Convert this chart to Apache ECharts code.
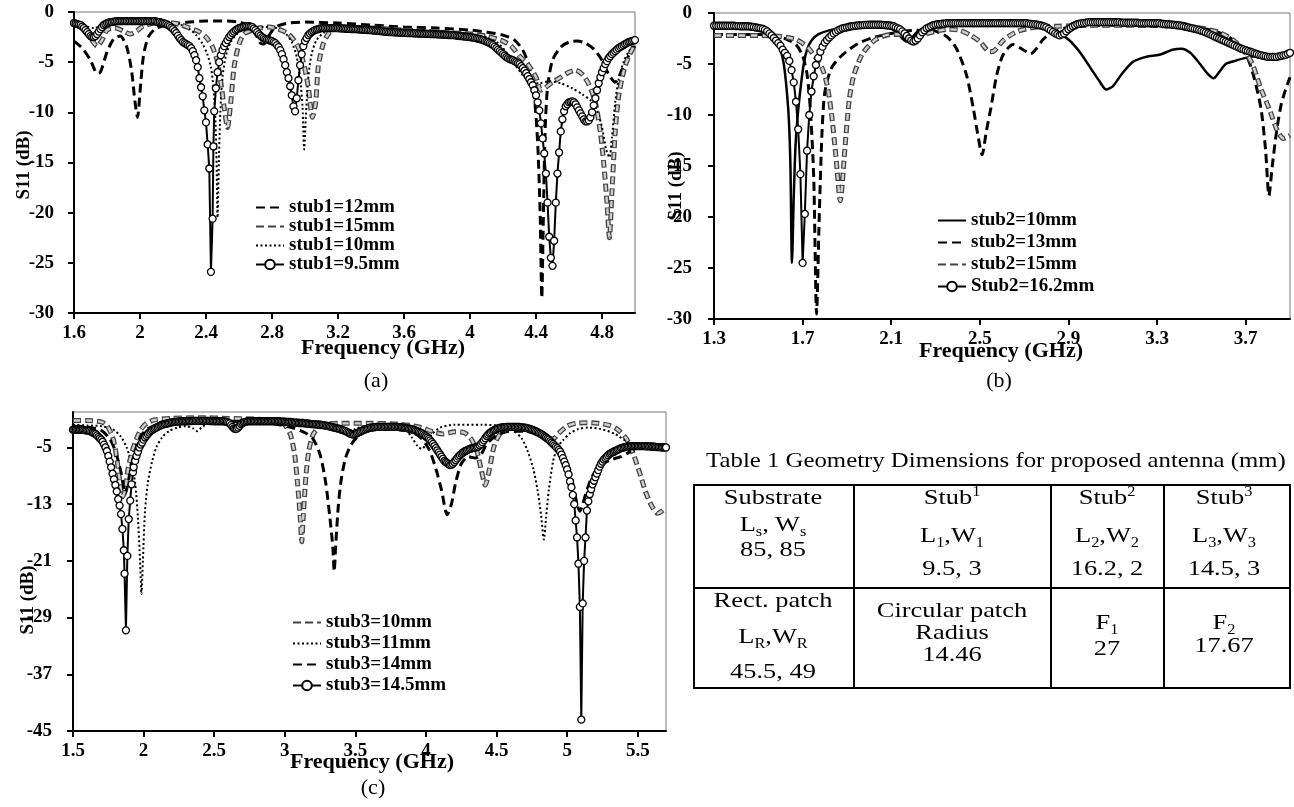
<!DOCTYPE html>
<html><head><meta charset="utf-8">
<script src="https://cdn.jsdelivr.net/npm/echarts@6/dist/echarts.min.js"></script>
<style>
body{margin:0;background:#fff;}
#wrap{position:relative;width:1294px;height:807px;overflow:hidden;background:#fff;}
#chart{position:absolute;left:0;top:0;width:1294px;height:807px;}
.t{position:absolute;font-family:'Liberation Serif','Times New Roman',serif;color:#000;white-space:nowrap;font-size:22px;line-height:1;transform:translate(-50%,-50%) scaleX(1.2);}
.ttl{font-size:21px;transform:translate(-50%,-50%) scaleX(1.18);}
.ln{position:absolute;background:#000;}
sub,sup{font-size:0.62em;line-height:0;}
</style></head>
<body><div id="wrap"><div id="chart"></div></div>
<script>
// ---------------- DATA ----------------
// Panel (a): S11 (dB) vs frequency (GHz), stub1 variations
const a_s12 = [[1.6,-2.9],[1.65,-3.6],[1.7,-4.8],[1.74,-6.1],[1.76,-6.0],[1.8,-4.0],[1.84,-2.7],[1.88,-2.4],[1.92,-3.5],[1.95,-6],[1.97,-9],[1.985,-10.5],[2.0,-8],[2.02,-4.5],[2.05,-2.5],[2.1,-1.6],[2.2,-1.2],[2.3,-1.0],[2.4,-0.9],[2.5,-0.9],[2.6,-1.0],[2.66,-1.4],[2.7,-2.2],[2.73,-3.1],[2.75,-3.2],[2.78,-2.4],[2.82,-1.5],[2.9,-1.1],[3.0,-1.0],[3.2,-1.1],[3.4,-1.3],[3.6,-1.5],[3.8,-1.6],[4.0,-1.8],[4.1,-2.0],[4.2,-2.3],[4.27,-2.8],[4.32,-3.8],[4.36,-5.5],[4.39,-8.5],[4.41,-13],[4.425,-20],[4.435,-28.5],[4.445,-20],[4.455,-12],[4.47,-7.5],[4.5,-4.8],[4.55,-3.5],[4.6,-3.0],[4.65,-2.9],[4.7,-3.1],[4.75,-3.7],[4.8,-4.8],[4.84,-6.2],[4.88,-7.0],[4.92,-5.8],[4.96,-4.4],[5.0,-3.4]];
const a_s15 = [[1.6,-1.2],[1.65,-1.6],[1.7,-2.6],[1.74,-3.4],[1.77,-2.8],[1.8,-1.8],[1.85,-1.6],[1.9,-1.9],[1.94,-2.2],[1.98,-1.9],[2.02,-1.4],[2.1,-1.1],[2.2,-1.1],[2.25,-1.3],[2.3,-1.6],[2.35,-1.9],[2.4,-2.5],[2.44,-3.5],[2.47,-5],[2.49,-7],[2.51,-9.5],[2.53,-11.5],[2.55,-9],[2.57,-5.5],[2.6,-3.2],[2.63,-2.2],[2.68,-1.8],[2.72,-1.6],[2.78,-1.5],[2.84,-1.7],[2.9,-2.2],[2.95,-3.2],[2.99,-5],[3.02,-7.5],[3.045,-10.5],[3.065,-9],[3.08,-5.5],[3.11,-3.2],[3.15,-2.0],[3.2,-1.6],[3.4,-1.6],[3.6,-1.8],[3.8,-2.0],[4.0,-2.2],[4.1,-2.4],[4.2,-2.9],[4.25,-3.4],[4.3,-4.4],[4.35,-5.2],[4.4,-6.5],[4.43,-7.8],[4.46,-7.5],[4.5,-7.0],[4.55,-6.5],[4.6,-6.0],[4.64,-5.8],[4.68,-6.2],[4.72,-7.2],[4.76,-9],[4.79,-12],[4.81,-15],[4.83,-19],[4.845,-22.5],[4.86,-18],[4.88,-12],[4.9,-8.5],[4.93,-6],[4.96,-4.5],[5.0,-3.2]];
const a_s10 = [[1.6,-1.2],[1.66,-1.4],[1.72,-1.6],[1.78,-1.3],[1.85,-1.1],[2.0,-1.0],[2.15,-1.0],[2.25,-1.3],[2.3,-1.7],[2.34,-2.3],[2.38,-3.2],[2.41,-4.3],[2.43,-5.5],[2.445,-7.5],[2.455,-10],[2.463,-14],[2.47,-20.5],[2.478,-15],[2.487,-10],[2.5,-6.5],[2.52,-4.4],[2.55,-3.0],[2.6,-2.0],[2.66,-1.6],[2.75,-1.5],[2.83,-1.6],[2.88,-2.1],[2.92,-3.0],[2.95,-4.5],[2.97,-6.5],[2.985,-9.5],[2.995,-13.7],[3.005,-10.5],[3.02,-6.5],[3.04,-4.2],[3.07,-2.8],[3.12,-2.0],[3.2,-1.7],[3.4,-1.7],[3.6,-1.8],[3.8,-2.0],[4.0,-2.2],[4.1,-2.5],[4.17,-3.1],[4.22,-4.0],[4.27,-5.2],[4.32,-6.3],[4.37,-7.0],[4.42,-7.1],[4.48,-6.9],[4.55,-7.1],[4.62,-7.6],[4.68,-8.2],[4.73,-8.8],[4.77,-9.8],[4.8,-11.5],[4.825,-13.7],[4.845,-14.5],[4.86,-12.5],[4.88,-9],[4.9,-6.8],[4.93,-5.0],[4.96,-4.0],[5.0,-3.2]];
const a_s95 = [[1.60,-1.1],[1.61,-1.15],[1.62,-1.2],[1.63,-1.25],[1.64,-1.3],[1.65,-1.45],[1.66,-1.6],[1.67,-1.8],[1.68,-2.0],[1.69,-2.2],[1.70,-2.4],[1.71,-2.5],[1.72,-2.5],[1.73,-2.4],[1.74,-2.2],[1.75,-1.95],[1.76,-1.7],[1.77,-1.5],[1.78,-1.3],[1.79,-1.2],[1.80,-1.1],[1.81,-1.05],[1.82,-1.0],[1.83,-1.0],[1.84,-0.95],[1.85,-0.95],[1.86,-0.9],[1.87,-0.9],[1.88,-0.9],[1.89,-0.9],[1.90,-0.9],[1.91,-0.9],[1.92,-0.9],[1.93,-0.9],[1.94,-0.9],[1.95,-0.9],[1.96,-0.9],[1.97,-0.9],[1.98,-0.9],[1.99,-0.9],[2.00,-0.9],[2.01,-0.9],[2.02,-0.9],[2.03,-0.9],[2.04,-0.9],[2.05,-0.9],[2.06,-0.9],[2.07,-0.9],[2.08,-0.9],[2.09,-0.9],[2.10,-0.95],[2.11,-1.0],[2.12,-1.0],[2.13,-1.05],[2.14,-1.1],[2.15,-1.15],[2.16,-1.2],[2.17,-1.3],[2.18,-1.4],[2.19,-1.55],[2.20,-1.7],[2.21,-1.9],[2.22,-2.1],[2.23,-2.35],[2.24,-2.6],[2.25,-2.8],[2.26,-3.0],[2.27,-3.1],[2.28,-3.2],[2.29,-3.3],[2.30,-3.4],[2.31,-3.6],[2.32,-3.9],[2.33,-4.3],[2.34,-4.8],[2.35,-5.5],[2.36,-6.6],[2.37,-7.5],[2.38,-8.4],[2.39,-9.8],[2.40,-11.0],[2.41,-13.2],[2.42,-15.6],[2.43,-25.9],[2.44,-20.6],[2.445,-13.4],[2.45,-9.9],[2.46,-7.6],[2.47,-6.0],[2.48,-5.0],[2.49,-4.3],[2.50,-3.8],[2.51,-3.4],[2.52,-3.1],[2.53,-2.8],[2.54,-2.5],[2.55,-2.3],[2.56,-2.1],[2.57,-1.95],[2.58,-1.8],[2.59,-1.7],[2.60,-1.6],[2.61,-1.55],[2.62,-1.5],[2.63,-1.45],[2.64,-1.4],[2.65,-1.4],[2.66,-1.4],[2.67,-1.45],[2.68,-1.5],[2.69,-1.65],[2.70,-1.8],[2.71,-2.0],[2.72,-2.2],[2.73,-2.35],[2.74,-2.5],[2.75,-2.6],[2.76,-2.7],[2.77,-2.75],[2.78,-2.8],[2.79,-2.85],[2.80,-2.9],[2.81,-3.0],[2.82,-3.1],[2.83,-3.3],[2.84,-3.5],[2.85,-3.8],[2.86,-4.2],[2.87,-4.7],[2.88,-5.3],[2.89,-6.0],[2.90,-6.6],[2.91,-7.4],[2.92,-8.3],[2.93,-9.4],[2.94,-9.9],[2.95,-8.6],[2.96,-6.8],[2.97,-5.3],[2.98,-4.2],[2.99,-3.4],[3.00,-2.9],[3.01,-2.6],[3.02,-2.3],[3.03,-2.15],[3.04,-2.0],[3.05,-1.9],[3.06,-1.8],[3.07,-1.75],[3.08,-1.7],[3.09,-1.65],[3.10,-1.6],[3.11,-1.6],[3.12,-1.6],[3.13,-1.6],[3.14,-1.6],[3.15,-1.6],[3.16,-1.6],[3.17,-1.6],[3.18,-1.6],[3.19,-1.6],[3.20,-1.6],[3.21,-1.62],[3.22,-1.63],[3.23,-1.64],[3.24,-1.65],[3.25,-1.67],[3.26,-1.68],[3.27,-1.69],[3.28,-1.7],[3.29,-1.7],[3.30,-1.7],[3.31,-1.71],[3.32,-1.72],[3.33,-1.73],[3.34,-1.75],[3.35,-1.77],[3.36,-1.78],[3.37,-1.79],[3.38,-1.8],[3.39,-1.8],[3.40,-1.81],[3.41,-1.83],[3.42,-1.85],[3.43,-1.87],[3.44,-1.88],[3.45,-1.9],[3.46,-1.91],[3.47,-1.93],[3.48,-1.95],[3.49,-1.97],[3.50,-1.98],[3.51,-2.0],[3.52,-2.0],[3.53,-2.01],[3.54,-2.02],[3.55,-2.03],[3.56,-2.04],[3.57,-2.05],[3.58,-2.06],[3.59,-2.07],[3.60,-2.08],[3.61,-2.09],[3.62,-2.1],[3.63,-2.1],[3.64,-2.1],[3.65,-2.11],[3.66,-2.12],[3.67,-2.13],[3.68,-2.14],[3.69,-2.15],[3.70,-2.15],[3.71,-2.15],[3.72,-2.16],[3.73,-2.17],[3.74,-2.18],[3.75,-2.19],[3.76,-2.2],[3.77,-2.2],[3.78,-2.2],[3.79,-2.21],[3.80,-2.22],[3.81,-2.23],[3.82,-2.24],[3.83,-2.25],[3.84,-2.26],[3.85,-2.27],[3.86,-2.28],[3.87,-2.29],[3.88,-2.3],[3.89,-2.3],[3.90,-2.31],[3.91,-2.33],[3.92,-2.35],[3.93,-2.37],[3.94,-2.39],[3.95,-2.4],[3.96,-2.42],[3.97,-2.44],[3.98,-2.46],[3.99,-2.48],[4.00,-2.5],[4.01,-2.52],[4.02,-2.55],[4.03,-2.58],[4.04,-2.62],[4.05,-2.66],[4.06,-2.7],[4.07,-2.75],[4.08,-2.8],[4.09,-2.88],[4.10,-2.95],[4.11,-3.02],[4.12,-3.1],[4.13,-3.2],[4.14,-3.3],[4.15,-3.45],[4.16,-3.6],[4.17,-3.75],[4.18,-3.9],[4.19,-4.05],[4.20,-4.2],[4.21,-4.35],[4.22,-4.5],[4.23,-4.6],[4.24,-4.7],[4.25,-4.75],[4.26,-4.8],[4.27,-4.9],[4.28,-5.0],[4.29,-5.1],[4.30,-5.2],[4.31,-5.4],[4.32,-5.6],[4.33,-5.85],[4.34,-6.1],[4.35,-6.4],[4.36,-6.7],[4.37,-7.0],[4.38,-7.3],[4.39,-7.8],[4.40,-8.3],[4.41,-9.0],[4.42,-9.8],[4.43,-11.1],[4.44,-12.6],[4.45,-14.1],[4.46,-16.1],[4.47,-19.0],[4.48,-22.4],[4.49,-24.5],[4.50,-25.3],[4.51,-22.8],[4.52,-19.0],[4.53,-16.1],[4.54,-14.0],[4.55,-11.9],[4.56,-10.7],[4.57,-9.9],[4.58,-9.4],[4.59,-9.2],[4.60,-9.0],[4.61,-8.95],[4.62,-8.9],[4.63,-9.0],[4.64,-9.2],[4.65,-9.5],[4.66,-9.8],[4.67,-10.1],[4.68,-10.4],[4.69,-10.7],[4.70,-10.9],[4.71,-10.9],[4.72,-10.8],[4.73,-10.5],[4.74,-10.0],[4.75,-9.3],[4.76,-8.6],[4.77,-7.8],[4.78,-7.1],[4.79,-6.5],[4.80,-6.0],[4.81,-5.6],[4.82,-5.2],[4.83,-4.9],[4.84,-4.6],[4.85,-4.4],[4.86,-4.2],[4.87,-4.05],[4.88,-3.9],[4.89,-3.75],[4.90,-3.6],[4.91,-3.5],[4.92,-3.4],[4.93,-3.3],[4.94,-3.2],[4.95,-3.1],[4.96,-3.0],[4.97,-2.95],[4.98,-2.9],[4.99,-2.85],[5.00,-2.8]];

// Panel (b): stub2 variations
const b_s10 = [[1.3,-1.3],[1.4,-1.3],[1.48,-1.4],[1.53,-1.6],[1.56,-2.0],[1.58,-2.6],[1.6,-3.6],[1.615,-5.0],[1.628,-7.5],[1.638,-10.5],[1.645,-15],[1.652,-24.5],[1.66,-18],[1.668,-13],[1.678,-10],[1.69,-7.5],[1.705,-5],[1.72,-3.6],[1.74,-2.7],[1.77,-2.1],[1.82,-1.7],[1.9,-1.4],[2.0,-1.3],[2.08,-1.4],[2.12,-1.8],[2.15,-2.5],[2.17,-2.8],[2.19,-2.5],[2.22,-1.8],[2.27,-1.3],[2.35,-1.1],[2.5,-1.0],[2.65,-1.0],[2.75,-1.1],[2.81,-1.5],[2.85,-1.9],[2.9,-2.6],[2.95,-3.8],[3.0,-5.4],[3.04,-6.7],[3.07,-7.5],[3.1,-7.2],[3.14,-6.0],[3.19,-4.8],[3.25,-4.3],[3.31,-4.1],[3.37,-3.6],[3.41,-3.5],[3.45,-3.9],[3.49,-4.9],[3.53,-6.0],[3.555,-6.4],[3.58,-5.8],[3.61,-5.0],[3.65,-4.7],[3.7,-4.4],[3.76,-4.2],[3.83,-4.3],[3.9,-4.2]];
const b_s13 = [[1.3,-2.1],[1.4,-2.1],[1.5,-2.1],[1.56,-2.2],[1.62,-2.5],[1.67,-3.1],[1.7,-4.2],[1.72,-6],[1.735,-9.5],[1.75,-16],[1.763,-29.5],[1.775,-20],[1.787,-12],[1.80,-7.8],[1.83,-5.4],[1.88,-4.1],[1.95,-3.0],[2.02,-2.4],[2.1,-2.0],[2.2,-1.7],[2.28,-1.7],[2.35,-2.3],[2.395,-3.5],[2.44,-6.1],[2.47,-9.3],[2.49,-11.8],[2.51,-13.9],[2.53,-11.5],[2.55,-9.3],[2.576,-6.1],[2.605,-4.1],[2.65,-3.1],[2.695,-3.6],[2.73,-4.0],[2.755,-3.5],[2.785,-2.6],[2.82,-2.0],[2.88,-1.5],[2.95,-1.3],[3.1,-1.2],[3.3,-1.2],[3.45,-1.4],[3.55,-1.7],[3.62,-2.3],[3.67,-3.2],[3.71,-4.5],[3.74,-6.5],[3.77,-9.5],[3.79,-13.5],[3.805,-17.9],[3.82,-15],[3.84,-11.5],[3.86,-9],[3.88,-7.5],[3.9,-6.3]];
const b_s15 = [[1.3,-2.2],[1.4,-2.2],[1.5,-2.2],[1.6,-2.3],[1.67,-2.6],[1.72,-3.3],[1.76,-4.4],[1.79,-5.5],[1.81,-7],[1.83,-9.8],[1.85,-14],[1.87,-18.4],[1.89,-13.5],[1.91,-8.6],[1.93,-6.2],[1.97,-4.0],[2.03,-2.6],[2.1,-2.1],[2.15,-2.1],[2.19,-2.6],[2.21,-2.7],[2.24,-2.2],[2.3,-1.8],[2.36,-1.6],[2.41,-1.7],[2.46,-2.2],[2.5,-2.8],[2.545,-3.8],[2.565,-3.7],[2.61,-2.6],[2.67,-1.8],[2.75,-1.4],[2.85,-1.3],[3.0,-1.2],[3.2,-1.2],[3.4,-1.3],[3.5,-1.5],[3.58,-1.9],[3.64,-2.6],[3.69,-3.6],[3.73,-5],[3.77,-7.5],[3.81,-9.6],[3.84,-11.4],[3.87,-12.3],[3.9,-12.0]];
const b_s162 = [[1.30,-1.25],[1.31,-1.25],[1.32,-1.25],[1.33,-1.25],[1.34,-1.25],[1.35,-1.25],[1.36,-1.25],[1.37,-1.25],[1.38,-1.25],[1.39,-1.25],[1.40,-1.28],[1.41,-1.28],[1.42,-1.3],[1.43,-1.3],[1.44,-1.3],[1.45,-1.3],[1.46,-1.32],[1.47,-1.35],[1.48,-1.38],[1.49,-1.42],[1.50,-1.45],[1.51,-1.5],[1.52,-1.55],[1.53,-1.65],[1.54,-1.8],[1.55,-2.0],[1.56,-2.2],[1.57,-2.45],[1.58,-2.7],[1.59,-2.95],[1.60,-3.2],[1.61,-3.6],[1.62,-3.9],[1.63,-4.2],[1.64,-4.7],[1.65,-5.6],[1.66,-6.8],[1.67,-8.7],[1.68,-11.4],[1.69,-15.8],[1.70,-24.5],[1.71,-19.7],[1.72,-13.5],[1.73,-10.0],[1.74,-7.7],[1.75,-6.2],[1.76,-5.1],[1.77,-4.4],[1.78,-3.8],[1.79,-3.3],[1.80,-2.9],[1.81,-2.65],[1.82,-2.4],[1.83,-2.2],[1.84,-2.0],[1.85,-1.85],[1.86,-1.7],[1.87,-1.6],[1.88,-1.5],[1.89,-1.45],[1.90,-1.4],[1.91,-1.35],[1.92,-1.3],[1.93,-1.28],[1.94,-1.25],[1.95,-1.22],[1.96,-1.2],[1.97,-1.18],[1.98,-1.17],[1.99,-1.16],[2.00,-1.15],[2.01,-1.15],[2.02,-1.15],[2.03,-1.15],[2.04,-1.15],[2.05,-1.15],[2.06,-1.16],[2.07,-1.18],[2.08,-1.2],[2.09,-1.22],[2.10,-1.25],[2.11,-1.3],[2.12,-1.4],[2.13,-1.5],[2.14,-1.6],[2.15,-1.8],[2.16,-2.0],[2.17,-2.25],[2.18,-2.5],[2.19,-2.7],[2.20,-2.8],[2.21,-2.7],[2.22,-2.5],[2.23,-2.2],[2.24,-1.9],[2.25,-1.7],[2.26,-1.5],[2.27,-1.4],[2.28,-1.3],[2.29,-1.2],[2.30,-1.15],[2.31,-1.1],[2.32,-1.1],[2.33,-1.05],[2.34,-1.05],[2.35,-1.0],[2.36,-1.0],[2.37,-1.0],[2.38,-1.0],[2.39,-1.0],[2.40,-1.0],[2.41,-1.0],[2.42,-1.0],[2.43,-1.0],[2.44,-1.0],[2.45,-1.0],[2.46,-1.0],[2.47,-1.0],[2.48,-1.0],[2.49,-1.0],[2.50,-1.0],[2.51,-1.0],[2.52,-1.0],[2.53,-1.0],[2.54,-1.0],[2.55,-1.0],[2.56,-1.0],[2.57,-1.0],[2.58,-1.0],[2.59,-1.0],[2.60,-1.0],[2.61,-1.0],[2.62,-1.0],[2.63,-1.0],[2.64,-1.0],[2.65,-1.0],[2.66,-1.0],[2.67,-1.0],[2.68,-1.0],[2.69,-1.0],[2.70,-1.0],[2.71,-1.0],[2.72,-1.05],[2.73,-1.07],[2.74,-1.1],[2.75,-1.12],[2.76,-1.15],[2.77,-1.2],[2.78,-1.25],[2.79,-1.32],[2.80,-1.4],[2.81,-1.55],[2.82,-1.7],[2.83,-1.85],[2.84,-2.0],[2.85,-2.1],[2.86,-2.2],[2.87,-2.1],[2.88,-2.0],[2.89,-1.8],[2.90,-1.6],[2.91,-1.45],[2.92,-1.3],[2.93,-1.2],[2.94,-1.1],[2.95,-1.05],[2.96,-1.0],[2.97,-0.97],[2.98,-0.95],[2.99,-0.9],[3.00,-0.9],[3.01,-0.9],[3.02,-0.9],[3.03,-0.9],[3.04,-0.9],[3.05,-0.9],[3.06,-0.9],[3.07,-0.9],[3.08,-0.9],[3.09,-0.9],[3.10,-0.9],[3.11,-0.9],[3.12,-0.9],[3.13,-0.9],[3.14,-0.95],[3.15,-0.95],[3.16,-0.95],[3.17,-0.95],[3.18,-0.95],[3.19,-0.95],[3.20,-0.95],[3.21,-0.95],[3.22,-1.0],[3.23,-1.0],[3.24,-1.0],[3.25,-1.0],[3.26,-1.0],[3.27,-1.0],[3.28,-1.0],[3.29,-1.0],[3.30,-1.0],[3.31,-1.0],[3.32,-1.05],[3.33,-1.07],[3.34,-1.1],[3.35,-1.1],[3.36,-1.12],[3.37,-1.15],[3.38,-1.17],[3.39,-1.2],[3.40,-1.22],[3.41,-1.25],[3.42,-1.3],[3.43,-1.35],[3.44,-1.4],[3.45,-1.45],[3.46,-1.5],[3.47,-1.55],[3.48,-1.6],[3.49,-1.67],[3.50,-1.75],[3.51,-1.82],[3.52,-1.9],[3.53,-2.0],[3.54,-2.1],[3.55,-2.2],[3.56,-2.3],[3.57,-2.4],[3.58,-2.5],[3.59,-2.6],[3.60,-2.7],[3.61,-2.8],[3.62,-2.9],[3.63,-3.0],[3.64,-3.1],[3.65,-3.2],[3.66,-3.3],[3.67,-3.4],[3.68,-3.5],[3.69,-3.57],[3.70,-3.65],[3.71,-3.72],[3.72,-3.8],[3.73,-3.87],[3.74,-3.95],[3.75,-4.02],[3.76,-4.1],[3.77,-4.15],[3.78,-4.2],[3.79,-4.25],[3.80,-4.3],[3.81,-4.3],[3.82,-4.3],[3.83,-4.3],[3.84,-4.3],[3.85,-4.25],[3.86,-4.2],[3.87,-4.15],[3.88,-4.1],[3.89,-4.0],[3.90,-3.9]];

// Panel (c): stub3 variations
const c_s10 = [[1.5,-1.2],[1.6,-1.2],[1.7,-1.4],[1.74,-1.9],[1.77,-3.0],[1.79,-4.2],[1.81,-6.5],[1.83,-9.5],[1.85,-12],[1.87,-11],[1.89,-8],[1.92,-5.5],[1.95,-3.8],[1.98,-2.5],[2.02,-1.6],[2.08,-1.1],[2.2,-0.9],[2.4,-0.8],[2.6,-0.9],[2.8,-1.0],[2.95,-1.3],[3.0,-1.8],[3.04,-3.2],[3.07,-6],[3.09,-10],[3.11,-15],[3.12,-18.3],[3.13,-15],[3.15,-9],[3.17,-5.5],[3.2,-3.2],[3.24,-2.2],[3.3,-1.7],[3.4,-1.6],[3.6,-1.6],[3.8,-1.7],[3.95,-2.1],[4.05,-2.8],[4.12,-3.1],[4.2,-2.8],[4.27,-2.9],[4.32,-3.8],[4.36,-5.5],[4.39,-8],[4.42,-10.3],[4.45,-8],[4.48,-5],[4.52,-3.2],[4.58,-2.4],[4.65,-2.3],[4.72,-2.5],[4.8,-3.0],[4.86,-3.6],[4.9,-3.8],[4.94,-3.0],[5.0,-2.0],[5.06,-1.6],[5.14,-1.5],[5.22,-1.6],[5.3,-1.9],[5.36,-2.5],[5.42,-3.8],[5.47,-6],[5.52,-9],[5.56,-11.5],[5.6,-13.3],[5.64,-14.3],[5.67,-14],[5.7,-13.5]];
const c_s11 = [[1.5,-1.8],[1.6,-1.9],[1.7,-2.0],[1.78,-2.4],[1.84,-3.5],[1.88,-5],[1.91,-7],[1.94,-10],[1.96,-15],[1.975,-21],[1.985,-25.7],[1.995,-21],[2.01,-14],[2.03,-10],[2.06,-7],[2.09,-5],[2.13,-3.6],[2.18,-2.7],[2.24,-2.2],[2.3,-2.0],[2.35,-2.3],[2.38,-2.7],[2.41,-2.2],[2.46,-1.6],[2.6,-1.4],[2.8,-1.4],[3.0,-1.5],[3.2,-1.7],[3.35,-2.0],[3.42,-2.6],[3.46,-2.8],[3.5,-2.4],[3.6,-1.8],[3.75,-1.8],[3.85,-2.4],[3.9,-3.6],[3.94,-4.8],[3.97,-5.2],[4.0,-4.6],[4.04,-3.2],[4.1,-2.2],[4.2,-1.8],[4.4,-1.8],[4.55,-2.0],[4.62,-2.6],[4.68,-3.8],[4.72,-5.5],[4.76,-8],[4.79,-11],[4.815,-14.5],[4.835,-18],[4.85,-15],[4.87,-11],[4.9,-7],[4.93,-5],[4.97,-4.0],[5.02,-3.0],[5.08,-2.4],[5.15,-2.2],[5.24,-2.4],[5.34,-3.1],[5.43,-4.3],[5.5,-4.9],[5.6,-5.0],[5.7,-5.0]];
const c_s14 = [[1.5,-2.0],[1.6,-2.1],[1.7,-2.6],[1.76,-3.8],[1.8,-5.5],[1.84,-8.5],[1.87,-11.5],[1.89,-10],[1.92,-6.5],[1.96,-4],[2.02,-2.5],[2.1,-1.8],[2.3,-1.4],[2.6,-1.3],[2.9,-1.6],[3.05,-2.2],[3.15,-3.0],[3.2,-3.8],[3.25,-6],[3.29,-10],[3.32,-15],[3.34,-19],[3.35,-22.5],[3.36,-19],[3.38,-13],[3.4,-9.5],[3.43,-6.5],[3.47,-4.6],[3.52,-3.4],[3.6,-2.6],[3.7,-2.3],[3.85,-2.5],[3.95,-3.4],[4.02,-5.2],[4.07,-8],[4.11,-11],[4.15,-14.5],[4.18,-13],[4.21,-10],[4.25,-7.3],[4.3,-6.3],[4.35,-6.5],[4.39,-6.0],[4.43,-4.5],[4.5,-3.3],[4.6,-2.7],[4.7,-2.7],[4.8,-3.2],[4.9,-4.3],[4.97,-6],[5.02,-8.5],[5.05,-11],[5.07,-13],[5.09,-14],[5.11,-13],[5.14,-11],[5.18,-9],[5.24,-7.5],[5.3,-6.8],[5.38,-6.3],[5.45,-5.6],[5.55,-5.0],[5.7,-5.0]];
const c_s145 = [[1.50,-2.5],[1.51,-2.5],[1.52,-2.5],[1.53,-2.5],[1.54,-2.5],[1.55,-2.5],[1.56,-2.5],[1.57,-2.5],[1.58,-2.55],[1.59,-2.6],[1.60,-2.6],[1.61,-2.65],[1.62,-2.7],[1.63,-2.8],[1.64,-2.9],[1.65,-3.0],[1.66,-3.1],[1.67,-3.3],[1.68,-3.5],[1.69,-3.7],[1.70,-3.9],[1.71,-4.2],[1.72,-4.6],[1.73,-5.0],[1.74,-5.5],[1.75,-6.2],[1.76,-7.0],[1.77,-7.8],[1.78,-8.7],[1.79,-9.5],[1.80,-10.3],[1.81,-11.2],[1.82,-12.3],[1.83,-13.2],[1.84,-14.4],[1.85,-16.5],[1.86,-19.5],[1.865,-22.8],[1.875,-30.8],[1.885,-20.3],[1.895,-15.1],[1.905,-12.5],[1.915,-10.2],[1.925,-8.5],[1.93,-7.8],[1.94,-6.9],[1.95,-6.2],[1.96,-5.6],[1.97,-5.0],[1.98,-4.6],[1.99,-4.3],[2.00,-3.9],[2.01,-3.6],[2.02,-3.35],[2.03,-3.1],[2.04,-2.9],[2.05,-2.7],[2.06,-2.55],[2.07,-2.4],[2.08,-2.3],[2.09,-2.2],[2.10,-2.1],[2.11,-2.0],[2.12,-1.9],[2.13,-1.8],[2.14,-1.75],[2.15,-1.7],[2.16,-1.65],[2.17,-1.6],[2.18,-1.55],[2.19,-1.5],[2.20,-1.45],[2.21,-1.42],[2.22,-1.4],[2.23,-1.38],[2.24,-1.36],[2.25,-1.35],[2.26,-1.33],[2.27,-1.3],[2.28,-1.3],[2.29,-1.3],[2.30,-1.3],[2.31,-1.3],[2.32,-1.28],[2.33,-1.28],[2.34,-1.27],[2.35,-1.26],[2.36,-1.25],[2.37,-1.25],[2.38,-1.25],[2.39,-1.25],[2.40,-1.25],[2.41,-1.25],[2.42,-1.25],[2.43,-1.25],[2.44,-1.25],[2.45,-1.25],[2.46,-1.26],[2.47,-1.27],[2.48,-1.28],[2.49,-1.28],[2.50,-1.3],[2.51,-1.3],[2.52,-1.3],[2.53,-1.3],[2.54,-1.3],[2.55,-1.3],[2.56,-1.3],[2.57,-1.32],[2.58,-1.35],[2.59,-1.4],[2.60,-1.5],[2.61,-1.6],[2.62,-1.85],[2.63,-2.1],[2.64,-2.3],[2.65,-2.4],[2.66,-2.35],[2.67,-2.2],[2.68,-1.95],[2.69,-1.7],[2.70,-1.55],[2.71,-1.45],[2.72,-1.4],[2.73,-1.35],[2.74,-1.3],[2.75,-1.3],[2.76,-1.3],[2.77,-1.3],[2.78,-1.3],[2.79,-1.3],[2.80,-1.3],[2.81,-1.3],[2.82,-1.3],[2.83,-1.3],[2.84,-1.3],[2.85,-1.3],[2.86,-1.3],[2.87,-1.3],[2.88,-1.3],[2.89,-1.3],[2.90,-1.3],[2.91,-1.3],[2.92,-1.3],[2.93,-1.3],[2.94,-1.3],[2.95,-1.3],[2.96,-1.3],[2.97,-1.35],[2.98,-1.35],[2.99,-1.35],[3.00,-1.35],[3.01,-1.4],[3.02,-1.4],[3.03,-1.4],[3.04,-1.4],[3.05,-1.45],[3.06,-1.5],[3.07,-1.5],[3.08,-1.5],[3.09,-1.5],[3.10,-1.55],[3.11,-1.55],[3.12,-1.55],[3.13,-1.55],[3.14,-1.6],[3.15,-1.6],[3.16,-1.63],[3.17,-1.65],[3.18,-1.68],[3.19,-1.7],[3.20,-1.7],[3.21,-1.72],[3.22,-1.74],[3.23,-1.76],[3.24,-1.78],[3.25,-1.8],[3.26,-1.82],[3.27,-1.85],[3.28,-1.88],[3.29,-1.92],[3.30,-1.96],[3.31,-2.0],[3.32,-2.05],[3.33,-2.1],[3.34,-2.15],[3.35,-2.2],[3.36,-2.25],[3.37,-2.3],[3.38,-2.35],[3.39,-2.4],[3.40,-2.47],[3.41,-2.55],[3.42,-2.62],[3.43,-2.7],[3.44,-2.8],[3.45,-2.9],[3.46,-3.0],[3.47,-3.1],[3.48,-3.15],[3.49,-3.2],[3.50,-3.1],[3.51,-3.0],[3.52,-2.9],[3.53,-2.8],[3.54,-2.7],[3.55,-2.6],[3.56,-2.52],[3.57,-2.45],[3.58,-2.37],[3.59,-2.3],[3.60,-2.25],[3.61,-2.2],[3.62,-2.17],[3.63,-2.15],[3.64,-2.12],[3.65,-2.1],[3.66,-2.1],[3.67,-2.1],[3.68,-2.1],[3.69,-2.1],[3.70,-2.1],[3.71,-2.1],[3.72,-2.1],[3.73,-2.1],[3.74,-2.1],[3.75,-2.1],[3.76,-2.1],[3.77,-2.1],[3.78,-2.1],[3.79,-2.1],[3.80,-2.1],[3.81,-2.12],[3.82,-2.15],[3.83,-2.18],[3.84,-2.2],[3.85,-2.22],[3.86,-2.25],[3.87,-2.3],[3.88,-2.35],[3.89,-2.4],[3.90,-2.45],[3.91,-2.5],[3.92,-2.57],[3.93,-2.65],[3.94,-2.72],[3.95,-2.8],[3.96,-2.9],[3.97,-3.0],[3.98,-3.15],[3.99,-3.3],[4.00,-3.45],[4.01,-3.6],[4.02,-3.8],[4.03,-4.0],[4.04,-4.25],[4.05,-4.5],[4.06,-4.8],[4.07,-5.1],[4.08,-5.4],[4.09,-5.7],[4.10,-6.0],[4.11,-6.3],[4.12,-6.6],[4.13,-6.9],[4.14,-7.05],[4.15,-7.2],[4.16,-7.35],[4.17,-7.5],[4.18,-7.45],[4.19,-7.3],[4.20,-7.05],[4.21,-6.8],[4.22,-6.55],[4.23,-6.3],[4.24,-6.1],[4.25,-5.9],[4.26,-5.75],[4.27,-5.6],[4.28,-5.5],[4.29,-5.4],[4.30,-5.3],[4.31,-5.2],[4.32,-5.15],[4.33,-5.1],[4.34,-5.05],[4.35,-5.0],[4.36,-4.95],[4.37,-4.9],[4.38,-4.7],[4.39,-4.5],[4.40,-4.25],[4.41,-4.0],[4.42,-3.7],[4.43,-3.4],[4.44,-3.2],[4.45,-3.0],[4.46,-2.85],[4.47,-2.7],[4.48,-2.6],[4.49,-2.5],[4.50,-2.4],[4.51,-2.3],[4.52,-2.25],[4.53,-2.2],[4.54,-2.17],[4.55,-2.15],[4.56,-2.12],[4.57,-2.1],[4.58,-2.1],[4.59,-2.1],[4.60,-2.1],[4.61,-2.1],[4.62,-2.1],[4.63,-2.1],[4.64,-2.1],[4.65,-2.1],[4.66,-2.1],[4.67,-2.15],[4.68,-2.17],[4.69,-2.2],[4.70,-2.22],[4.71,-2.25],[4.72,-2.3],[4.73,-2.35],[4.74,-2.42],[4.75,-2.5],[4.76,-2.57],[4.77,-2.65],[4.78,-2.75],[4.79,-2.85],[4.80,-2.95],[4.81,-3.05],[4.82,-3.17],[4.83,-3.3],[4.84,-3.45],[4.85,-3.6],[4.86,-3.75],[4.87,-3.9],[4.88,-4.1],[4.89,-4.3],[4.90,-4.5],[4.91,-4.7],[4.92,-4.9],[4.93,-5.1],[4.94,-5.35],[4.95,-5.6],[4.96,-6.0],[4.97,-6.5],[4.98,-7.0],[4.99,-7.5],[5.00,-8.1],[5.01,-8.8],[5.02,-9.8],[5.03,-10.6],[5.04,-11.7],[5.05,-13.0],[5.06,-15.3],[5.07,-17.7],[5.08,-21.4],[5.09,-27.5],[5.10,-43.4],[5.11,-27.0],[5.12,-21.0],[5.13,-17.7],[5.14,-13.9],[5.15,-12.6],[5.16,-11.6],[5.17,-10.9],[5.18,-10.2],[5.19,-9.7],[5.20,-9.2],[5.21,-8.7],[5.22,-8.2],[5.23,-7.7],[5.24,-7.3],[5.25,-7.0],[5.26,-6.7],[5.27,-6.5],[5.28,-6.3],[5.29,-6.1],[5.30,-5.9],[5.31,-5.8],[5.32,-5.7],[5.33,-5.6],[5.34,-5.5],[5.35,-5.4],[5.36,-5.3],[5.37,-5.2],[5.38,-5.1],[5.39,-5.05],[5.40,-5.0],[5.41,-4.95],[5.42,-4.9],[5.43,-4.88],[5.44,-4.85],[5.45,-4.83],[5.46,-4.8],[5.47,-4.8],[5.48,-4.8],[5.49,-4.8],[5.50,-4.8],[5.51,-4.8],[5.52,-4.8],[5.53,-4.8],[5.54,-4.8],[5.55,-4.8],[5.56,-4.85],[5.57,-4.85],[5.58,-4.85],[5.59,-4.85],[5.60,-4.9],[5.61,-4.9],[5.62,-4.9],[5.63,-4.95],[5.64,-4.95],[5.65,-4.95],[5.66,-4.95],[5.67,-5.0],[5.68,-5.0],[5.69,-5.0],[5.70,-5.0]];

const legendA = ['stub1=12mm','stub1=15mm','stub1=10mm','stub1=9.5mm'];
const legendB = ['stub2=10mm','stub2=13mm','stub2=15mm','Stub2=16.2mm'];
const legendC = ['stub3=10mm','stub3=11mm','stub3=14mm','stub3=14.5mm'];

// ---------------- CHART ----------------
const FONT = "'Liberation Serif','Times New Roman',serif";
const chart = echarts.init(document.getElementById('chart'), null, {renderer:'canvas'});
const CLEAR = 'rgba(0,0,0,0)';

function xAx(i,min,max,interval){return {gridIndex:i,type:'value',min,max,interval,
  axisLine:{onZero:false,lineStyle:{color:'#000',width:2}},
  axisTick:{length:6,lineStyle:{color:'#000',width:2}},
  axisLabel:{color:'#000',fontFamily:FONT,fontWeight:'bold',fontSize:19,margin:11,showMaxLabel:false},
  splitLine:{show:false}};}
function yAx(i,min,max,interval,margin,hideMax){return {gridIndex:i,type:'value',min,max,interval,
  axisLine:{onZero:false,lineStyle:{color:'#000',width:2}},
  axisTick:{length:6,lineStyle:{color:'#000',width:2}},
  axisLabel:{color:'#000',fontFamily:FONT,fontWeight:'bold',fontSize:19,margin:margin,showMaxLabel:!hideMax},
  splitLine:{show:false}};}

function base(name,data,i){return {name,type:'line',xAxisIndex:i,yAxisIndex:i,data,symbol:'none',smooth:0.25,
  itemStyle:{color:CLEAR,borderColor:CLEAR,borderWidth:0},z:2};}
function dashed(name,data,i){return Object.assign(base(name,data,i),{lineStyle:{color:'#000',width:3,type:[9,5]}});}
function solid(name,data,i){return Object.assign(base(name,data,i),{lineStyle:{color:'#000',width:2.5}});}
function dotted(name,data,i){return Object.assign(base(name,data,i),{lineStyle:{color:'#000',width:2,type:[2,2.5]}});}
function grayOuter(name,data,i){return Object.assign(base(name,data,i),{lineStyle:{color:'#444',width:5,type:[8,4]}});}
function grayInner(name,data,i){return Object.assign(base(name,data,i),{silent:true,z:3,lineStyle:{color:'#cfcfcf',width:2.4,type:[6,6],dashOffset:-1}});}
function circ(name,data,i){return {name,type:'line',xAxisIndex:i,yAxisIndex:i,data,symbol:'circle',symbolSize:7,showSymbol:true,
  lineStyle:{color:'#000',width:2},itemStyle:{color:'#fff',borderColor:'#000',borderWidth:1.3},z:5};}

function leg(data,left,top,gap){return {data,orient:'vertical',left,top,itemWidth:28,itemHeight:12,itemGap:gap,padding:0,
  selectedMode:false,textStyle:{color:'#000',fontFamily:FONT,fontWeight:'bold',fontSize:19,lineHeight:18}};}

function txt(x,y,text,size,bold,rot){return {type:'text',x,y,rotation:rot||0,silent:true,
  style:{text,fontFamily:FONT,fontSize:size,fontWeight:bold?'bold':'normal',fill:'#000',align:'center',verticalAlign:'middle'}};}

const option = {
  animation:false,
  backgroundColor:'#fff',
  grid:[
    {left:74,top:12,width:561,height:301,show:true,borderColor:'#777',borderWidth:1},
    {left:714,top:13,width:576,height:306,show:true,borderColor:'#777',borderWidth:1},
    {left:73,top:412,width:593,height:319,show:true,borderColor:'#777',borderWidth:1}
  ],
  xAxis:[xAx(0,1.6,5.0,0.4),xAx(1,1.3,3.9,0.4),xAx(2,1.5,5.7,0.5)],
  yAxis:[yAx(0,-30,0,5,20,false),yAx(1,-30,0,5,22,false),yAx(2,-45,0,8,21,true)],
  legend:[leg(legendA,255,198,0),leg(legendB,937,211,3),leg(legendC,292,613,2)],
  series:[
    dashed(legendA[0],a_s12,0), grayOuter(legendA[1],a_s15,0), grayInner('_a15',a_s15,0), dotted(legendA[2],a_s10,0), circ(legendA[3],a_s95,0),
    solid(legendB[0],b_s10,1), dashed(legendB[1],b_s13,1), grayOuter(legendB[2],b_s15,1), grayInner('_b15',b_s15,1), circ(legendB[3],b_s162,1),
    grayOuter(legendC[0],c_s10,2), grayInner('_c10',c_s10,2), dotted(legendC[1],c_s11,2), dashed(legendC[2],c_s14,2), circ(legendC[3],c_s145,2)
  ],
  graphic:[
    txt(383,348,'Frequency (GHz)',22,true), txt(1001,351,'Frequency (GHz)',22,true), txt(372,762,'Frequency (GHz)',22,true),
    txt(24,165,'S11 (dB)',19,true,Math.PI/2), txt(676,186,'S11 (dB)',19,true,Math.PI/2), txt(28,600,'S11 (dB)',19,true,Math.PI/2),
    txt(376,381,'(a)',22,false), txt(999,381,'(b)',22,false), txt(373,788,'(c)',22,false)
  ]
};
chart.setOption(option);

// ---------------- TABLE (HTML text) ----------------
const tblLines = [
  ['ttl',996,460,'Table 1 Geometry Dimensions for proposed antenna (mm)'],
  ['',773,497,'Substrate'],['',773,524,'L<sub>s</sub>, W<sub>s</sub>'],['',773,549,'85, 85'],
  ['',952,497,'Stub<sup>1</sup>'],['',952,535,'L<sub>1</sub>,W<sub>1</sub>'],['',952,568,'9.5, 3'],
  ['',1107,497,'Stub<sup>2</sup>'],['',1107,535,'L<sub>2</sub>,W<sub>2</sub>'],['',1107,568,'16.2, 2'],
  ['',1224,497,'Stub<sup>3</sup>'],['',1224,535,'L<sub>3</sub>,W<sub>3</sub>'],['',1224,568,'14.5, 3'],
  ['',773,600,'Rect. patch'],['',773,636,'L<sub>R</sub>,W<sub>R</sub>'],['',773,671,'45.5, 49'],
  ['',952,610,'Circular patch'],['',952,632,'Radius'],['',952,654,'14.46'],
  ['',1107,622,'F<sub>1</sub>'],['',1107,648,'27'],
  ['',1224,622,'F<sub>2</sub>'],['',1224,645,'17.67']
];
const tableBox = {left:693,top:484,right:1289,bottom:687,mid:587,cols:[853,1050,1163]};
const wrap = document.getElementById('wrap');
function addLine(l,t,w,h){const d=document.createElement('div');d.className='ln';d.style.left=l+'px';d.style.top=t+'px';d.style.width=w+'px';d.style.height=h+'px';wrap.appendChild(d);}
const B=tableBox;
addLine(B.left,B.top,B.right-B.left,1.5);addLine(B.left,B.bottom,B.right-B.left+1.5,1.5);addLine(B.left,B.mid,B.right-B.left,1.5);
addLine(B.left,B.top,1.5,B.bottom-B.top);addLine(B.right,B.top,1.5,B.bottom-B.top);
B.cols.forEach(c=>addLine(c,B.top,1.5,B.bottom-B.top));
tblLines.forEach(([cls,x,y,h])=>{const d=document.createElement('div');d.className='t '+cls;d.style.left=x+'px';d.style.top=y+'px';d.innerHTML=h;wrap.appendChild(d);});
</script></body></html>
